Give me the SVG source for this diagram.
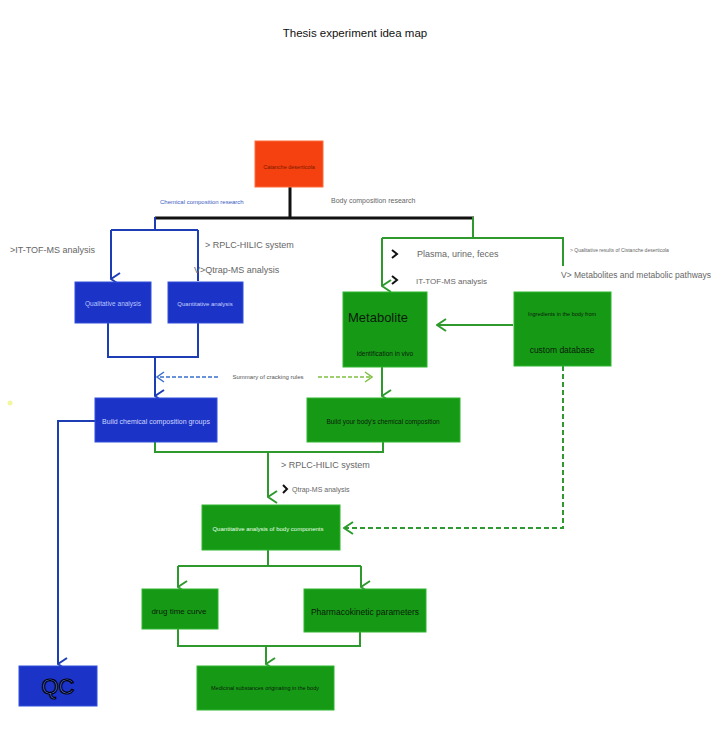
<svg xmlns="http://www.w3.org/2000/svg" width="719" height="750" viewBox="0 0 719 750">
<defs>
<marker id="ab" viewBox="0 0 14 14" refX="7" refY="13" markerWidth="14" markerHeight="14" markerUnits="userSpaceOnUse" orient="auto">
<path d="M1,4 L7,13 L13,4" fill="none" stroke="#1d3db5" stroke-width="2"/>
</marker>
<marker id="ag" viewBox="0 0 14 14" refX="7" refY="13" markerWidth="14" markerHeight="14" markerUnits="userSpaceOnUse" orient="auto">
<path d="M1,4 L7,13 L13,4" fill="none" stroke="#2e9a2e" stroke-width="2"/>
</marker>
<marker id="agh" viewBox="0 0 14 14" refX="13" refY="7" markerWidth="14" markerHeight="14" markerUnits="userSpaceOnUse" orient="auto">
<path d="M4,1 L13,7 L4,13" fill="none" stroke="#2e9a2e" stroke-width="2"/>
</marker>
<marker id="albh" viewBox="0 0 12 12" refX="11" refY="6" markerWidth="12" markerHeight="12" markerUnits="userSpaceOnUse" orient="auto">
<path d="M4,1 L11,6 L4,11" fill="none" stroke="#7fbf3f" stroke-width="1.5"/>
</marker>
<marker id="abh" viewBox="0 0 12 12" refX="11" refY="6" markerWidth="12" markerHeight="12" markerUnits="userSpaceOnUse" orient="auto">
<path d="M4,1 L11,6 L4,11" fill="none" stroke="#3a6fd0" stroke-width="1.5"/>
</marker>
</defs>
<style>
text{font-family:"Liberation Sans",Arial,sans-serif}
.blue{fill:#1b33c6;stroke:#3350d8;stroke-width:1}
.green{fill:#169a16;stroke:#2fb52f;stroke-width:1}
.lb{fill:none;stroke:#1d3db5;stroke-width:2}
.lg{fill:none;stroke:#2e9a2e;stroke-width:2}
.lk{fill:none;stroke:#111;stroke-width:3}
.gray{fill:#666}
.chev{fill:none;stroke:#111;stroke-width:2}
</style>
<rect width="719" height="750" fill="#fff"/>
<text x="355" y="37" font-size="11.5" text-anchor="middle" fill="#111">Thesis experiment idea map</text>

<g id="connectors">
<path class="lk" d="M290,187 V218 M155,218 H474"/>
<path class="lb" d="M155,217 V230 M111,230 H198"/>
<path class="lb" d="M111,230 V279" marker-end="url(#ab)"/>
<path class="lb" d="M198,230 V281" stroke-width="1.5"/>
<path class="lb" d="M108,323 V357 H198 V323"/>
<path class="lb" d="M155,357 V396" marker-end="url(#ab)"/>
<path class="lb" d="M95,421 H58 V664" marker-end="url(#ab)"/>
<path class="lg" d="M473,217 V238 M382,238 H563 V266"/>
<path class="lg" d="M382,238 V286" marker-end="url(#ag)"/>
<path class="lg" d="M513,325 H437" marker-end="url(#agh)"/>
<path class="lg" d="M382,367 V396" marker-end="url(#ag)"/>
<path fill="none" stroke="#3a6fd0" stroke-width="1.5" stroke-dasharray="4,2" d="M218,377 H157" marker-end="url(#abh)"/>
<path fill="none" stroke="#7fbf3f" stroke-width="1.5" stroke-dasharray="4,2" d="M318,377 H372" marker-end="url(#albh)"/>
<path class="lg" d="M155,442 V452 H383 V442"/>
<path class="lg" d="M268,452 V497" marker-end="url(#ag)"/>
<path fill="none" stroke="#2e9a2e" stroke-width="2" stroke-dasharray="5,3" d="M563,366 V528 H344" marker-end="url(#agh)"/>
<path class="lg" d="M268,550 V566 M178,566 H361"/>
<path class="lg" d="M178,566 V587" marker-end="url(#ag)"/>
<path class="lg" d="M361,566 V587" marker-end="url(#ag)"/>
<path class="lg" d="M178,629 V646 H360 V632"/>
<path class="lg" d="M266,646 V664" marker-end="url(#ag)"/>
</g>

<g id="labels">
<text x="160" y="204" font-size="6" fill="#3a5bbf">Chemical composition research</text>
<text x="331" y="203" font-size="7" class="gray">Body composition research</text>
<text x="10" y="253" font-size="9" class="gray">&gt;IT-TOF-MS analysis</text>
<text x="205" y="248" font-size="9" class="gray">&gt; RPLC-HILIC system</text>
<text x="194" y="273" font-size="9" class="gray">V&gt;Qtrap-MS analysis</text>
<path class="chev" d="M392,250 L397,254 L392,258"/>
<text x="417" y="257" font-size="9" class="gray">Plasma, urine, feces</text>
<path class="chev" d="M392,276 L397,280 L392,284"/>
<text x="416" y="284" font-size="8" class="gray">IT-TOF-MS analysis</text>
<text x="570" y="252" font-size="5" class="gray">&gt; Qualitative results of Cistanche deserticola</text>
<text x="561" y="278" font-size="8.5" class="gray">V&gt; Metabolites and metabolic pathways</text>
<text x="268" y="379" font-size="6" fill="#555" text-anchor="middle">Summary of cracking rules</text>
<text x="281" y="468" font-size="9" class="gray">&gt; RPLC-HILIC system</text>
<path class="chev" d="M283,485 L287,489 L283,493"/>
<text x="292" y="492" font-size="7" class="gray">Qtrap-MS analysis</text>
</g>

<g id="n-cistanche">
<rect x="255" y="141" width="68" height="46" fill="#f5400f" stroke="#ff6a3a"/>
<text x="289" y="169" font-size="5.5" text-anchor="middle" fill="#7a1a00">Catanche deserticola</text>
</g>
<g id="n-qualitative">
<rect class="blue" x="75" y="282" width="76" height="41"/>
<text x="113" y="306" font-size="6.5" text-anchor="middle" fill="#b8c4ff">Qualitative analysis</text>
</g>
<g id="n-quantitative">
<rect class="blue" x="168" y="282" width="75" height="41"/>
<text x="205" y="306" font-size="6" text-anchor="middle" fill="#c8d2ff">Quantitative analysis</text>
</g>
<g id="n-metabolite">
<rect class="green" x="343" y="292" width="84" height="75"/>
<text x="348" y="322" font-size="13" fill="#0a1a0a">Metabolite</text>
<text x="385" y="356" font-size="6.5" text-anchor="middle" fill="#0a1a0a">identification in vivo</text>
</g>
<g id="n-ingredients">
<rect class="green" x="514" y="292" width="97" height="74"/>
<text x="562" y="316" font-size="5.5" text-anchor="middle" fill="#0a1a0a">Ingredients in the body from</text>
<text x="562" y="353" font-size="8.5" text-anchor="middle" fill="#0a1a0a">custom database</text>
</g>
<g id="n-build-chem">
<rect class="blue" x="95" y="398" width="122" height="44"/>
<text x="156" y="424" font-size="7" text-anchor="middle" fill="#d0d8ff">Build chemical composition groups</text>
</g>
<g id="n-build-body">
<rect class="green" x="307" y="398" width="153" height="44"/>
<text x="383" y="424" font-size="6.5" text-anchor="middle" fill="#0a1a0a">Build your body's chemical composition</text>
</g>
<g id="n-quant-body">
<rect class="green" x="202" y="505" width="138" height="45"/>
<text x="268" y="531" font-size="6" text-anchor="middle" fill="#e8ffe8">Quantitative analysis of body components</text>
</g>
<g id="n-drug">
<rect class="green" x="142" y="589" width="76" height="40"/>
<text x="179" y="614" font-size="8" text-anchor="middle" fill="#0a1a0a">drug time curve</text>
</g>
<g id="n-pk">
<rect class="green" x="304" y="589" width="122" height="43"/>
<text x="365" y="615" font-size="8.5" text-anchor="middle" fill="#0a1a0a">Pharmacokinetic parameters</text>
</g>
<g id="n-medicinal">
<rect class="green" x="197" y="666" width="137" height="44"/>
<text x="265" y="690" font-size="5.5" text-anchor="middle" fill="#0a1a0a">Medicinal substances originating in the body</text>
</g>
<g id="n-qc">
<rect class="blue" x="19" y="666" width="78" height="40"/>
<text x="58" y="694" font-size="22" text-anchor="middle" fill="#5a78ff" stroke="#000" stroke-width="1.2">QC</text>
</g>
<circle cx="10" cy="403" r="2.5" fill="#e8f060" opacity="0.6"/>
</svg>
